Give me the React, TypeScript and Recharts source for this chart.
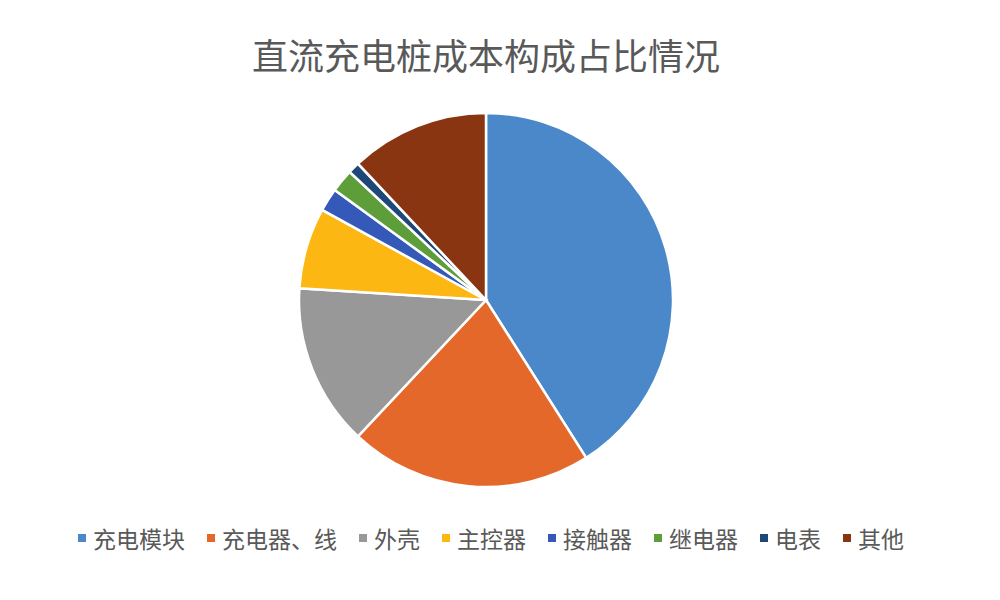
import React from "react"
import { PieChart, Pie, Cell } from "recharts"

const categories = ["充电模块", "充电器、线", "外壳", "主控器", "接触器", "继电器", "电表", "其他"]
const shares = [41, 21, 14, 7, 2, 2, 1, 12]
const colors = ["#4a88c9", "#e4682a", "#989898", "#fdb713", "#3459b9", "#5e9e3a", "#1d4878", "#8a3512"]

const data = categories.map((name, i) => ({ name, value: shares[i] }))

const FONT = '"Noto Sans CJK SC", "Noto Sans", sans-serif'

export default function App() {
  return (
    <div style={{ position: "absolute", left: 0, top: 0, width: 1000, height: 600, background: "#fff", fontFamily: FONT }}>
      <div style={{ position: "absolute", left: 0, top: 28, width: 972, textAlign: "center", fontSize: 36, color: "#595959" }}>
        直流充电桩成本构成占比情况
      </div>
      <PieChart width={1000} height={600} margin={{ top: 0, right: 0, bottom: 0, left: 0 }}>
        <Pie
          data={data}
          dataKey="value"
          nameKey="name"
          cx={486}
          cy={300}
          outerRadius={187}
          startAngle={90}
          endAngle={-270}
          stroke="#fff"
          strokeWidth={2.5}
          isAnimationActive={false}
        >
          {data.map((d, i) => (
            <Cell key={d.name} fill={colors[i]} />
          ))}
        </Pie>
      </PieChart>
      <div
        style={{
          position: "absolute",
          left: 0,
          top: 521,
          width: 982,
          display: "flex",
          justifyContent: "center",
          alignItems: "center",
          color: "#595959",
          fontSize: 23,
          lineHeight: "34px",
        }}
      >
        {categories.map((c, i) => (
          <div key={c} style={{ display: "flex", alignItems: "center", marginRight: i < categories.length - 1 ? 22 : 0 }}>
            <span style={{ display: "inline-block", width: 8, height: 8, background: colors[i], marginRight: 7 }} />
            <span>{c}</span>
          </div>
        ))}
      </div>
    </div>
  )
}
